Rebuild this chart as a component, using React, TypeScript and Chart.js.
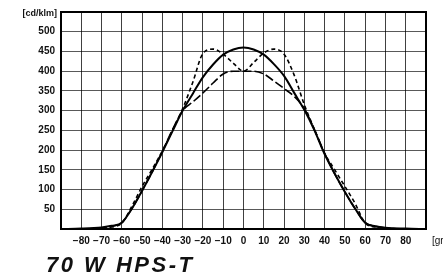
import React, { useEffect, useRef } from "react";
import { Chart, registerables } from "chart.js";

Chart.register(...registerables);

const angles = [-90, -80, -70, -65, -60, -55, -50, -45, -40, -35, -30, -25, -20, -15, -10, -5, 0, 5, 10, 15, 20, 25, 30, 35, 40, 45, 50, 55, 60, 65, 70, 80, 90];
const solidValues = [0, 1, 4, 8, 16, 52, 97, 145, 195, 248, 300, 343, 385, 417, 442, 455, 460, 455, 442, 418, 388, 345, 302, 250, 190, 140, 94, 52, 16, 7, 3, 1, 0];
const shortDashValues = [0, 0, 2, 5, 15, 58, 108, 152, 198, 250, 305, 372, 445, 456, 443, 420, 400, 422, 446, 456, 443, 390, 315, 252, 192, 150, 108, 65, 15, 5, 2, 0, 0];
const longDashValues = [0, 0, 3, 7, 16, 52, 97, 145, 197, 252, 300, 322, 345, 370, 393, 400, 400, 400, 393, 375, 356, 336, 305, 252, 192, 140, 94, 52, 16, 7, 3, 0, 0];
const yUnit = "[cd/klm]";
const xUnit = "[gr]";
const title = "70 W HPS-T";

const toPoints = (vals: number[]) => angles.map((a, i) => ({ x: a, y: vals[i] }));

export default function App() {
  const ref = useRef<HTMLCanvasElement | null>(null);

  useEffect(() => {
    if (!ref.current) return;
    const framePlugin = {
      id: "frame",
      afterDraw(chart: any) {
        const { ctx, chartArea } = chart;
        ctx.save();
        ctx.strokeStyle = "#000";
        ctx.lineWidth = 2;
        ctx.strokeRect(chartArea.left, chartArea.top, chartArea.right - chartArea.left, chartArea.bottom - chartArea.top);
        ctx.fillStyle = "#111";
        ctx.font = "bold 9px 'Liberation Sans', Arial, sans-serif";
        ctx.textBaseline = "middle";
        ctx.textAlign = "right";
        ctx.fillText(yUnit, 57, 14);
        ctx.textAlign = "left";
        ctx.font = "10px 'Liberation Sans', Arial, sans-serif";
        ctx.fillText(xUnit, 432, 241);
        ctx.restore();
      },
    };
    const tickFont = { family: "'Liberation Sans', Arial, sans-serif", size: 10, weight: "bold" as const };
    const chart = new Chart(ref.current, {
      type: "scatter",
      data: {
        datasets: [
          {
            data: toPoints(solidValues),
            showLine: true,
            borderColor: "#000",
            borderWidth: 2,
            pointRadius: 0,
            cubicInterpolationMode: "monotone",
          },
          {
            data: toPoints(shortDashValues),
            showLine: true,
            borderColor: "#000",
            borderWidth: 1.6,
            borderDash: [4, 3],
            pointRadius: 0,
            cubicInterpolationMode: "monotone",
          },
          {
            data: toPoints(longDashValues),
            showLine: true,
            borderColor: "#000",
            borderWidth: 1.6,
            borderDash: [9, 3],
            pointRadius: 0,
            cubicInterpolationMode: "monotone",
          },
        ],
      },
      options: {
        responsive: false,
        animation: false,
        layout: { padding: { top: 11, right: 17, left: 0, bottom: 0 } },
        plugins: { legend: { display: false }, tooltip: { enabled: false }, title: { display: false } },
        scales: {
          x: {
            type: "linear",
            min: -90,
            max: 90,
            afterFit: (s: any) => { s.height = 48; },
            ticks: {
              stepSize: 10,
              autoSkip: false,
              maxRotation: 0,
              padding: 6,
              color: "#111",
              font: tickFont,
              callback: (v: any) => (v === -90 || v === 90 ? "" : v < 0 ? "\u2212" + Math.abs(v) : String(v)),
            },
            grid: { color: "rgba(0,0,0,0.75)", lineWidth: 1, drawTicks: false },
            border: { display: true, color: "#000", width: 2 },
          },
          y: {
            min: 0,
            max: 550,
            afterFit: (s: any) => { s.width = 61; },
            ticks: {
              stepSize: 50,
              padding: 6,
              color: "#111",
              font: tickFont,
              callback: (v: any) => (v === 0 || v === 550 ? "" : String(v)),
            },
            grid: { color: "rgba(0,0,0,0.65)", lineWidth: 1, drawTicks: false },
            border: { display: true, color: "#000", width: 2 },
          },
        },
      },
      plugins: [framePlugin],
    });
    return () => chart.destroy();
  }, []);

  return (
    <div style={{ position: "fixed", left: 0, top: 0, width: 443, height: 277, background: "#fff", overflow: "hidden" }}>
      <canvas ref={ref} width={443} height={277} style={{ display: "block" }} />
      <div
        style={{
          position: "absolute",
          left: 46,
          top: 254,
          fontFamily: "'Liberation Sans', Arial, sans-serif",
          fontWeight: "bold",
          fontStyle: "italic",
          fontSize: 22,
          lineHeight: "22px",
          letterSpacing: 2.5,
          color: "#111",
          whiteSpace: "nowrap",
        }}
      >
        {title}
      </div>
    </div>
  );
}
